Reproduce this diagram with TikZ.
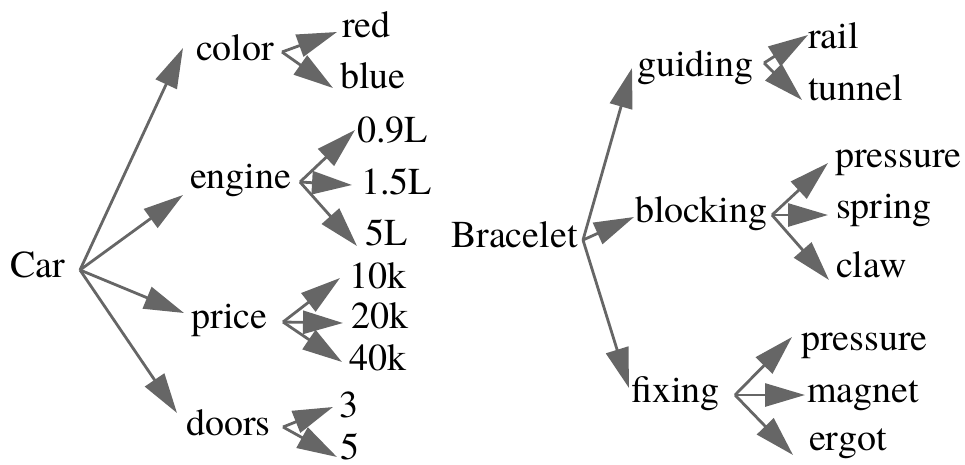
\documentclass[tikz,border=0pt]{standalone}
\usepackage{fontspec}
\setmainfont{texgyretermes}[Extension=.otf, UprightFont=*-regular, BoldFont=*-bold, ItalicFont=*-italic, BoldItalicFont=*-bolditalic]
\usetikzlibrary{arrows.meta}
\definecolor{edgegray}{RGB}{102,102,102}
\tikzset{
  lbl/.style={anchor=base west, inner sep=0pt, outer sep=0pt, font=\rmfamily\fontsize{38}{45}\selectfont},
  edge/.style={draw=edgegray, line width=2.8pt, -{Triangle[length=40pt,width=23pt,fill=edgegray]}}
}
\begin{document}
\begin{tikzpicture}[x=1pt,y=-1pt]
\useasboundingbox (0,0) rectangle (965,464);
% ---- Car tree ----
\node[lbl] (car) at (10,277) {Car};
\node[lbl] (color) at (196,60) {color};
\node[lbl] (engine) at (190,188) {engine};
\node[lbl] (price) at (191,328) {price};
\node[lbl] (doors) at (186,435) {doors};
\node[lbl] (red) at (342,37) {red};
\node[lbl] (blue) at (340,88) {blue};
\node[lbl] (l09) at (357,142) {0.9L};
\node[lbl] (l15) at (361,194) {1.5L};
\node[lbl] (l5) at (365,245) {5L};
\node[lbl] (k10) at (349,288) {10k};
\node[lbl] (k20) at (351,328) {20k};
\node[lbl] (k40) at (349,370) {40k};
\node[lbl] (d3) at (339,417) {3};
\node[lbl] (d5) at (340,459) {5};
% ---- Bracelet tree ----
\node[lbl] (brace) at (451,247) {Bracelet};
\node[lbl] (guiding) at (637,76) {guiding};
\node[lbl] (blocking) at (635,222) {blocking};
\node[lbl] (fixing) at (631,402) {fixing};
\node[lbl] (rail) at (808,48) {rail};
\node[lbl] (tunnel) at (808,100) {tunnel};
\node[lbl] (pres1) at (835,167) {pressure};
\node[lbl] (spring) at (836,218) {spring};
\node[lbl] (claw) at (836,277) {claw};
\node[lbl] (pres2) at (801,350) {pressure};
\node[lbl] (magnet) at (807,402) {magnet};
\node[lbl] (ergot) at (809,450) {ergot};
% ---- connector end points ----
\coordinate (car-o) at (80,270);
\coordinate (color-i) at (183,48);
\coordinate (engine-i) at (183,195);
\coordinate (price-i) at (184,313);
\coordinate (doors-i) at (177,413);
\coordinate (color-o) at (282,52);
\coordinate (red-i) at (337,32);
\coordinate (blue-i) at (333,88);
\coordinate (engine-o) at (300,182);
\coordinate (l09-i) at (355,130);
\coordinate (l15-i) at (352,185);
\coordinate (l5-i) at (357,246);
\coordinate (price-o) at (283,322);
\coordinate (k10-i) at (340,278);
\coordinate (k20-i) at (343,323);
\coordinate (k40-i) at (342,362);
\coordinate (doors-o) at (283,427);
\coordinate (d3-i) at (333,407);
\coordinate (d5-i) at (337,457);
\coordinate (brace-o) at (583,240);
\coordinate (guiding-i) at (632,68);
\coordinate (blocking-i) at (634,217);
\coordinate (fixing-i) at (629,388);
\coordinate (guiding-o) at (764,63);
\coordinate (rail-i) at (808,35);
\coordinate (tunnel-i) at (802,100);
\coordinate (blocking-o) at (772,215);
\coordinate (pres1-i) at (828,163);
\coordinate (spring-i) at (828,215);
\coordinate (claw-i) at (829,280);
\coordinate (fixing-o) at (735,395);
\coordinate (pres2-i) at (792,337);
\coordinate (magnet-i) at (805,395);
\coordinate (ergot-i) at (793,455);
% ---- connectors ----
\foreach \a/\b in {car-o/color-i, car-o/engine-i, car-o/price-i, car-o/doors-i,
  color-o/red-i, color-o/blue-i,
  engine-o/l09-i, engine-o/l15-i, engine-o/l5-i,
  price-o/k10-i, price-o/k20-i, price-o/k40-i,
  doors-o/d3-i, doors-o/d5-i,
  brace-o/guiding-i, brace-o/blocking-i, brace-o/fixing-i,
  guiding-o/rail-i, guiding-o/tunnel-i,
  blocking-o/pres1-i, blocking-o/spring-i, blocking-o/claw-i,
  fixing-o/pres2-i, fixing-o/magnet-i, fixing-o/ergot-i}
  \draw[edge] (\a) -- (\b);
\end{tikzpicture}
\end{document}
